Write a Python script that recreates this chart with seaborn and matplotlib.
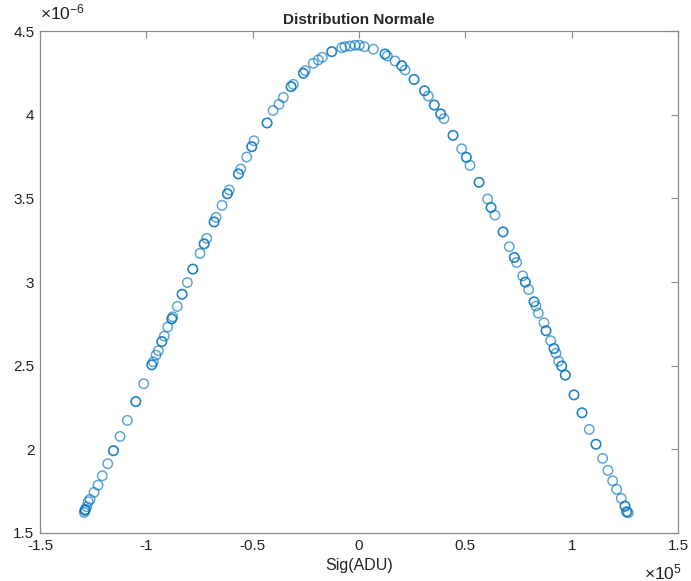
import matplotlib
matplotlib.use("Agg")
import matplotlib.pyplot as plt
import seaborn as sns
import pandas as pd
from matplotlib.ticker import FixedLocator, FuncFormatter

# Signal values (ADU), in units of 1e5
sig_e5 = [
    -1.2915, -1.2882, -1.2802, -1.2727, -1.2647, -1.2459, -1.2271, -1.2069, -1.1815, -1.1551,
    -1.1236, -1.0893, -1.0498, -1.0122, -0.9746, -0.9671, -0.9544, -0.9436, -0.9276, -0.9154,
    -0.8994, -0.8806, -0.8759, -0.8543, -0.8322, -0.8072, -0.7819, -0.7475, -0.7287, -0.7160,
    -0.6817, -0.6723, -0.6441, -0.6192, -0.6098, -0.5675, -0.5562, -0.5280, -0.5045, -0.4937,
    -0.4325, -0.4043, -0.3761, -0.3559, -0.3197, -0.3089, -0.2619, -0.2525, -0.2149, -0.1913,
    -0.1725, -0.1284, -0.0813, -0.0658, -0.0423, -0.0188, 0.0014, 0.0249, 0.0672, 0.1222,
    0.1331, 0.1693, 0.2008, 0.2163, 0.2586, 0.3079, 0.3258, 0.3536, 0.3841, 0.3996,
    0.4419, 0.4828, 0.5045, 0.5219, 0.5642, 0.6051, 0.6206, 0.6394, 0.6770, 0.7066,
    0.7301, 0.7414, 0.7696, 0.7819, 0.7978, 0.8228, 0.8322, 0.8430, 0.8698, 0.8792,
    0.9013, 0.9168, 0.9262, 0.9389, 0.9530, 0.9699, 1.0108, 1.0484, 1.0828, 1.1142,
    1.1458, 1.1707, 1.1928, 1.2116, 1.2332, 1.2506, 1.2586, 1.2661,
    # overlapping repeats (darker circles)
    -1.2890, -1.2860, -1.1540, -1.0490, -0.9740, -0.9270, -0.8800, -0.8315, -0.7810, -0.7280,
    -0.6810, -0.6185, -0.5668, -0.5040, -0.4320, -0.3190, -0.2612, -0.1280, 0.1225, 0.2015,
    0.2590, 0.3085, 0.3540, 0.3846, 0.4424, 0.5050, 0.5648, 0.6210, 0.6775, 0.7305,
    0.7823, 0.8233, 0.8795, 0.9172, 0.9535, 0.9703, 1.0112, 1.0488, 1.1146, 1.2510,
    1.2590,
]

# Probability density values, in units of 1e-6
pdf_e6 = [
    1.623, 1.637, 1.657, 1.687, 1.701, 1.743, 1.786, 1.842, 1.914, 1.991,
    2.077, 2.173, 2.284, 2.392, 2.504, 2.523, 2.563, 2.589, 2.643, 2.677,
    2.731, 2.779, 2.792, 2.854, 2.926, 2.997, 3.076, 3.171, 3.227, 3.261,
    3.358, 3.386, 3.458, 3.526, 3.550, 3.645, 3.675, 3.747, 3.808, 3.844,
    3.950, 4.025, 4.062, 4.103, 4.167, 4.181, 4.247, 4.263, 4.307, 4.327,
    4.343, 4.376, 4.400, 4.406, 4.410, 4.415, 4.415, 4.406, 4.391, 4.363,
    4.351, 4.321, 4.293, 4.267, 4.211, 4.143, 4.111, 4.058, 4.005, 3.976,
    3.877, 3.796, 3.746, 3.697, 3.596, 3.496, 3.446, 3.400, 3.300, 3.211,
    3.147, 3.117, 3.037, 3.000, 2.955, 2.882, 2.856, 2.814, 2.756, 2.709,
    2.649, 2.603, 2.574, 2.527, 2.498, 2.444, 2.326, 2.219, 2.119, 2.031,
    1.946, 1.874, 1.812, 1.761, 1.707, 1.661, 1.627, 1.621,
    1.635, 1.641, 1.993, 2.287, 2.506, 2.645, 2.781, 2.928, 3.078, 3.229,
    3.360, 3.528, 3.647, 3.809, 3.951, 4.168, 4.248, 4.377, 4.362, 4.292,
    4.210, 4.142, 4.057, 4.004, 3.876, 3.745, 3.595, 3.445, 3.299, 3.146,
    2.999, 2.881, 2.708, 2.602, 2.497, 2.443, 2.325, 2.218, 2.030, 1.660,
    1.626,
]

x_ticks = [-1.5, -1, -0.5, 0, 0.5, 1, 1.5]
y_ticks = [1.5, 2, 2.5, 3, 3.5, 4, 4.5]

df = pd.DataFrame({"sig": [v * 1e5 for v in sig_e5], "pdf": [v * 1e-6 for v in pdf_e6]})

sns.set_style("white")
plt.rcParams["font.family"] = ["Liberation Sans", "DejaVu Sans"]
plt.rcParams["axes.unicode_minus"] = False
plt.rcParams["mathtext.fontset"] = "custom"
plt.rcParams["mathtext.rm"] = "Liberation Sans"
plt.rcParams["mathtext.it"] = "Liberation Sans"

fig = plt.figure(figsize=(6.91, 5.81), dpi=100)
ax = fig.add_axes([40 / 691, 48 / 581, 638 / 691, 502 / 581])

matlab_blue = "#0072BD"
sns.scatterplot(data=df, x="sig", y="pdf", ax=ax, marker="o", s=46,
                facecolors="none", edgecolor=matlab_blue, linewidth=1.05, alpha=0.65,
                legend=False)

ax.set_xlim(-1.5e5, 1.5e5)
ax.set_ylim(1.5e-6, 4.5e-6)
ax.xaxis.set_major_locator(FixedLocator([t * 1e5 for t in x_ticks]))
ax.yaxis.set_major_locator(FixedLocator([t * 1e-6 for t in y_ticks]))
ax.xaxis.set_major_formatter(FuncFormatter(lambda v, p: f"{v / 1e5:g}"))
ax.yaxis.set_major_formatter(FuncFormatter(lambda v, p: f"{v / 1e-6:g}"))

for sp in ax.spines.values():
    sp.set_color("#888888")
    sp.set_linewidth(0.9)
ax.tick_params(direction="in", length=5, width=0.8, color="#888888",
               labelsize=11, labelcolor="#222222", top=True, right=True, pad=4)

ax.set_xlabel("Sig(ADU)", fontsize=11.5, color="#222222", labelpad=4)
ax.set_ylabel("")
ax.set_title("Distribution Normale", fontsize=11, fontweight="bold", pad=5)

fig.text(40 / 691, 1 - 12 / 581, "×10$^{-6}$", fontsize=12.5, color="#222222",
         ha="left", va="center")
fig.text(682 / 691, 1 - 572 / 581, "×10$^{5}$", fontsize=12.5, color="#222222",
         ha="right", va="center")

fig.savefig("out.png", dpi=100)
